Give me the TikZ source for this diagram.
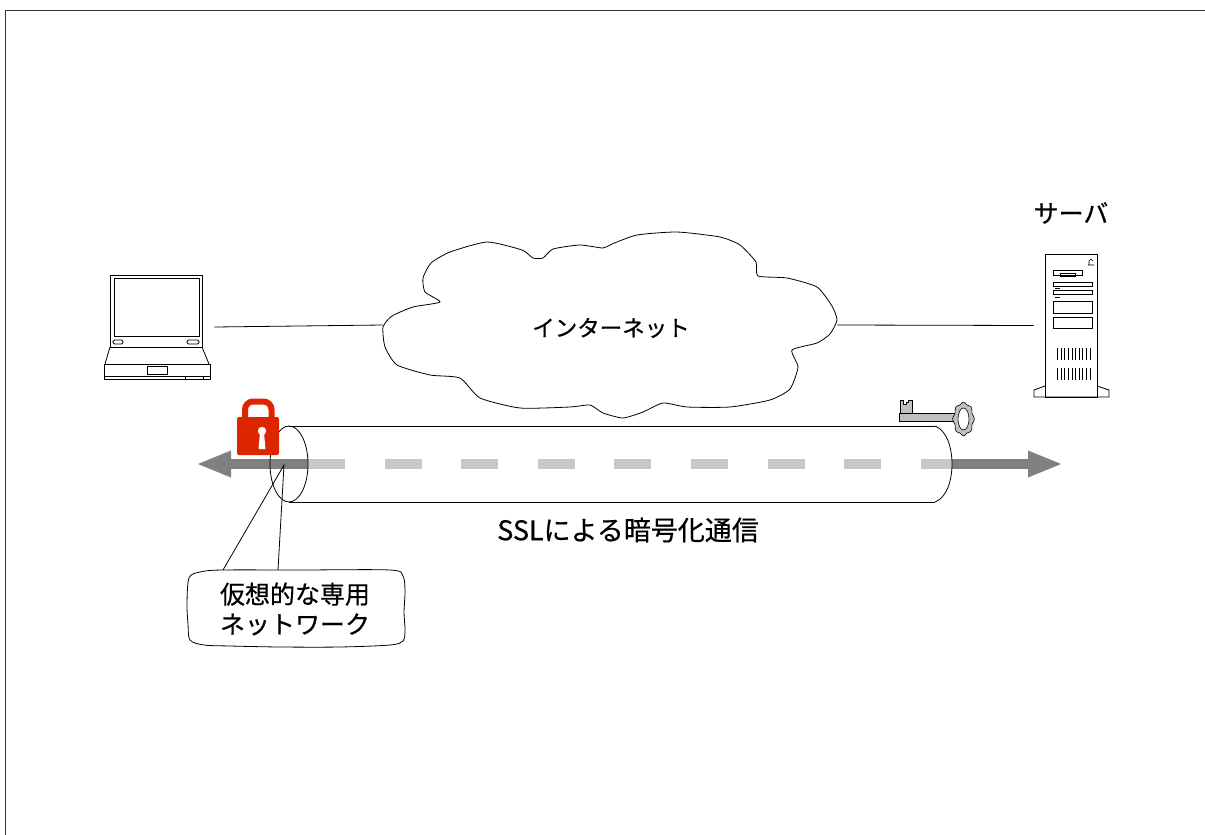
\documentclass[tikz,border=0pt]{standalone}
\usepackage{fontspec}
\usepackage{tikz}
\usetikzlibrary{arrows.meta, positioning}
\newfontfamily\jpfont[FakeBold=0.6]{Noto Sans CJK JP}
\definecolor{lockred}{RGB}{220, 38, 0}
\definecolor{shaftdark}{RGB}{128, 128, 128}
\definecolor{shaftlight}{RGB}{200, 200, 200}
\definecolor{keygray}{RGB}{192, 192, 192}

\begin{document}
\begin{tikzpicture}[x=1pt, y=-1pt, line width=0.8pt,
    every node/.style={font=\jpfont\fontsize{25pt}{30pt}\selectfont, inner sep=0pt},
    ghost/.style={draw=none, minimum width=#1},
    wire/.style={line width=0.8pt},
    shaft/.style={line width=10pt}]
    \useasboundingbox (0,0) rectangle (1205,835);

    % Page frame (top and left edges)
    \draw[black!80, line width=1pt] (5,835) -- (5,10.5) -- (1205,10.5);

    % Laptop
    \draw (110,275) rectangle (202,347);
    \draw (114,278) rectangle (199,336);
    \draw[rounded corners=1.5pt] (113,340) rectangle (123,344);
    \draw[rounded corners=1.5pt] (187,340) rectangle (199,344);
    \draw (110,347) -- (105,364);
    \draw (202,347) -- (209,364);
    \draw (104,364) rectangle (210,379);
    \draw (147,366) rectangle (167,374);
    \draw (104,376) -- (210,376);
    \draw (185,376) -- (185,379) (203,376) -- (203,379);
    \node[ghost=110, minimum height=106] (laptop) at (157,327) {};

    % Server tower
    \draw (1045,254) rectangle (1097,397);
    \draw (1045,386) -- (1034,390) -- (1034,397) -- (1109,397) -- (1109,390) -- (1097,386);
    \draw[line width=0.6pt] (1089,265) -- (1089,261) -- (1091,259) -- (1093,261) (1088,265) -- (1094,265);
    \draw (1053,270) rectangle (1082,275);
    \draw (1060,273) rectangle (1075,276);
    \draw (1053,282) rectangle (1092,286);
    \draw (1053,290) rectangle (1092,294);
    \draw[line width=0.6pt] (1055,288) -- (1060,288) (1055,297) -- (1060,297);
    \draw (1053,301) rectangle (1092,313);
    \draw (1053,317) rectangle (1092,328);
    \foreach \i in {0,...,9} {
        \pgfmathsetmacro{\vx}{1057.5 + \i*3.6}
        \draw[line width=0.6pt] (\vx,348) -- (\vx,360);
        \draw[line width=0.6pt] (\vx,368) -- (\vx,380);
    }
    \node[ghost=75, minimum height=143] (server) at (1071.5,325.5) {};
    \node (serverlbl) at (1071,213) {サーバ};

    % Internet cloud
    \draw[fill=white] plot[smooth cycle, tension=0.35] coordinates {
        (383,327) (392,316) (413,307) (440,302) (425,292) (423,278)
        (431,263) (450,252) (487,242) (522,250) (533,258) (543,258)
        (553,249) (580,245) (603,248) (612,244) (637,235) (677,232)
        (720,237) (740,245) (756,262) (758,276) (787,278) (817,287)
        (832,306) (837,320) (830,334) (817,343) (792,350) (798,367)
        (790,389) (770,400) (730,407) (687,407) (663,403) (643,412)
        (623,418) (603,413) (590,405) (570,407) (520,408) (480,398)
        (460,378) (430,375) (397,365) (385,347)};
    \node[ghost=454, minimum height=186] (inet) at (610,325) {};
    \node[font=\jpfont\fontsize{22.5pt}{26pt}\selectfont] at (611,328) {インターネット};

    % Links to the cloud
    \draw[wire] (laptop.east) ++(2,0) -- (inet.west);
    \draw[wire] (inet.east) -- (server.west);

    % Tunnel arrow
    \coordinate (arrL) at (196,464);
    \coordinate (arrR) at (1063,464);
    \coordinate (tunL) at (308,464);
    \coordinate (tunR) at (952,464);
    \draw[shaft, shaftdark, -{Triangle[length=35pt, width=24pt]}] (tunL) -- (arrL);
    \draw[shaft, shaftdark, -{Triangle[length=35pt, width=24pt]}] (tunR) -- (arrR);
    \draw[shaft, shaftlight, dash pattern=on 37pt off 39.6pt] (tunL) -- (tunR);

    % Tunnel tube
    \draw (289,464) ellipse (19 and 38);
    \draw (289,426) -- (935,426);
    \draw (289,502) -- (935,502);
    \draw (935,426) .. controls (946,430) and (952,446) .. (952,464)
          .. controls (952,482) and (946,498) .. (935,502);
    \node[font=\jpfont\fontsize{27pt}{30pt}\selectfont] (ssl) at (628,530) {SSLによる暗号化通信};

    % Padlock
    \draw[lockred, line width=6pt, rounded corners=8pt]
        (245,419) -- (245,401.5) -- (271.5,401.5) -- (271.5,419);
    \fill[lockred, rounded corners=2pt] (237,417) rectangle (279,455);
    \fill[white] (262,431) circle (4.2);
    \fill[white] (260,433) -- (264,433) -- (265.5,449) -- (258.5,449) -- cycle;

    % Key
    \filldraw[fill=keygray, line width=0.6pt]
        (900,414) -- (900,400) -- (903,400) -- (903,404) -- (906,404) -- (906,402)
        -- (908,402) -- (908,400) -- (912,400) -- (912,414) -- cycle;
    \filldraw[fill=keygray, line width=0.6pt] (899,413) rectangle (956,421);
    \filldraw[fill=keygray, line width=0.6pt]
        plot[variable=\t, domain=0:355, samples=72]
        ({963.5+(10+0.8*cos(8*\t))*cos(\t)}, {419+(16+0.8*cos(8*\t))*sin(\t)}) -- cycle;
    \filldraw[fill=white, line width=0.6pt] (963.5,419) ellipse (5.5 and 11);

    % Callout
    \draw[fill=white] plot[smooth cycle, tension=0.5] coordinates {
        (189,578) (200,572) (222,570) (300,570) (390,570) (403,576)
        (405,592) (404,612) (405,630) (403,641) (390,645) (340,647)
        (280,647) (230,646) (204,645) (190,640) (188,624) (187,604)};
    \coordinate (tip) at (284,465);
    \coordinate (noteA) at (223,570);
    \coordinate (noteB) at (278,570);
    \draw[wire] (noteA) -- (tip) -- (noteB);
    \node[align=center] (note) at (295,609) {仮想的な専用\\ネットワーク};

\end{tikzpicture}
\end{document}
